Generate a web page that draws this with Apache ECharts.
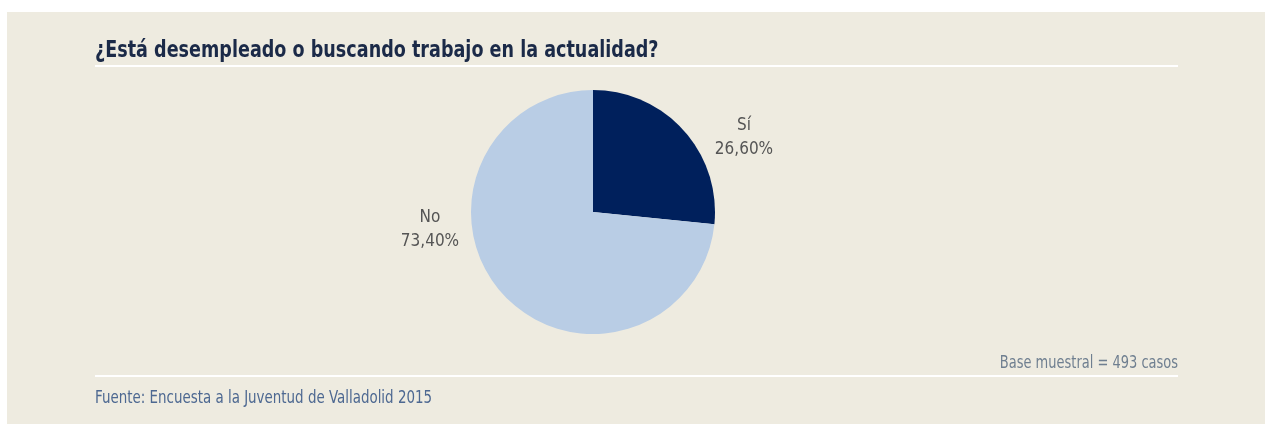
<!DOCTYPE html>
<html><head><meta charset="utf-8">
<script src="https://cdn.jsdelivr.net/npm/echarts@6/dist/echarts.min.js"></script>
<style>html,body{margin:0;padding:0;background:#fff}#c{width:1265px;height:424px}</style>
</head><body><div id="c"></div>
<script>
const categories = ['Sí', 'No'];
const values = [26.60, 73.40];
const valueLabels = ['26,60%', '73,40%'];
const titleText = '¿Está desempleado o buscando trabajo en la actualidad?';
const baseText = 'Base muestral = 493 casos';
const sourceText = 'Fuente: Encuesta a la Juventud de Valladolid 2015';

const FONT = '"DejaVu Sans Condensed", sans-serif';
const chart = echarts.init(document.getElementById('c'));
const labelPos = [[744, 138], [430, 230]];
chart.setOption({
  backgroundColor: '#ffffff',
  animation: false,
  graphic: [
    {type: 'rect', shape: {x: 7, y: 12, width: 1258, height: 412}, style: {fill: '#eeebe0'}, z: -10},
    {type: 'rect', shape: {x: 95, y: 65, width: 1083, height: 2}, style: {fill: '#ffffff'}},
    {type: 'rect', shape: {x: 95, y: 375, width: 1083, height: 2}, style: {fill: '#ffffff'}},
    {type: 'text', x: 95, y: 51.5, scaleX: 0.85, style: {text: titleText, font: 'bold 23px ' + FONT, fill: '#1b2a48', align: 'left', verticalAlign: 'middle'}},
    {type: 'text', x: 1178, y: 364, scaleX: 0.85, style: {text: baseText, font: '17px ' + FONT, fill: '#6f7f90', align: 'right', verticalAlign: 'middle'}},
    {type: 'text', x: 95, y: 398.5, scaleX: 0.878, style: {text: sourceText, font: '17px ' + FONT, fill: '#4d6891', align: 'left', verticalAlign: 'middle'}}
  ],
  series: [{
    type: 'pie',
    center: [593, 212],
    radius: [0, 122],
    startAngle: 90,
    clockwise: true,
    data: categories.map((c, i) => ({name: c, value: values[i]})),
    color: ['#00205c', '#b9cde5'],
    label: {
      show: true,
      position: 'outside',
      formatter: p => p.name + '\n' + valueLabels[p.dataIndex],
      fontFamily: FONT,
      fontSize: 17,
      lineHeight: 24,
      color: '#555555',
      align: 'center'
    },
    labelLine: {show: false},
    labelLayout: p => ({x: labelPos[p.dataIndex][0], y: labelPos[p.dataIndex][1], align: 'center', verticalAlign: 'middle'}),
    emphasis: {disabled: true}
  }]
});
</script></body></html>
